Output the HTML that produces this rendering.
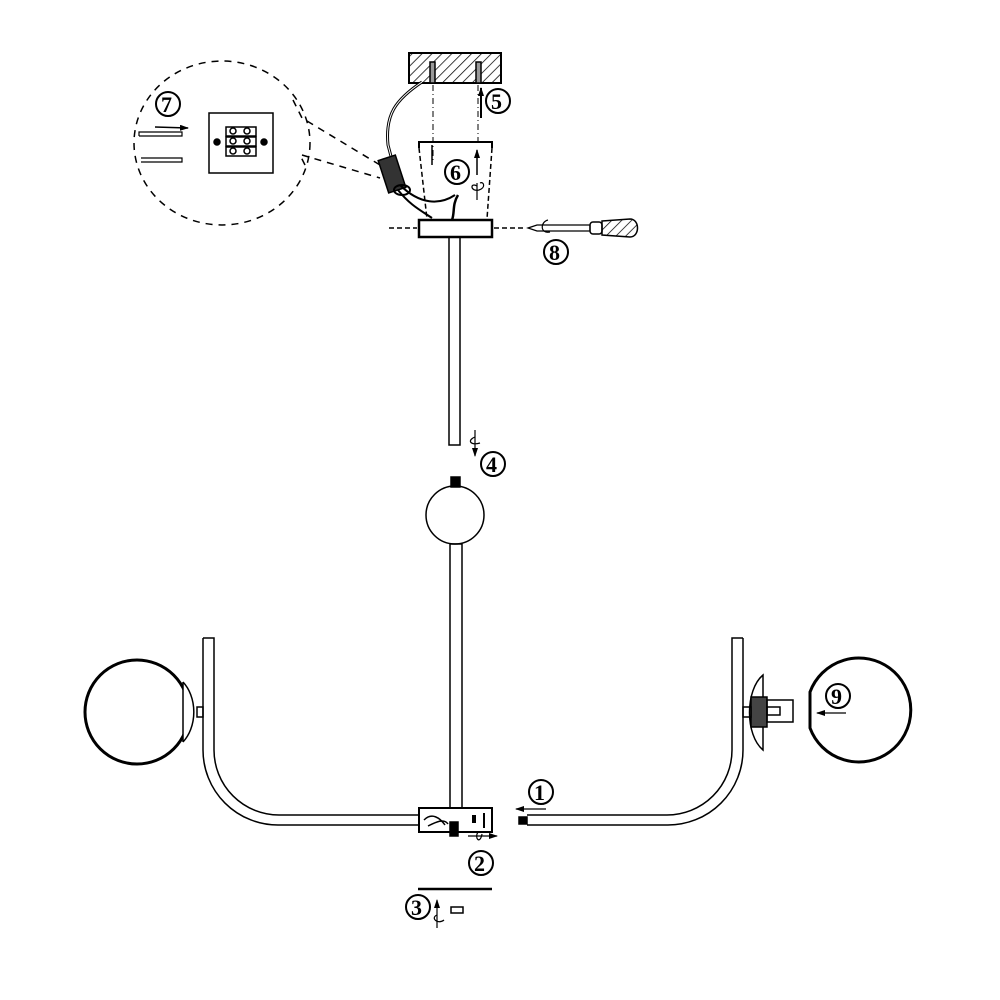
<!DOCTYPE html>
<html><head><meta charset="utf-8"><style>
html,body{margin:0;padding:0;background:#fff;width:1000px;height:1000px;overflow:hidden}
svg{display:block}
text{font-family:"Liberation Serif",serif;font-weight:bold;fill:#000}
</style></head><body>
<svg width="1000" height="1000" viewBox="0 0 1000 1000" xmlns="http://www.w3.org/2000/svg">
<defs>
<pattern id="h" width="7" height="7" patternUnits="userSpaceOnUse" patternTransform="rotate(45)">
<line x1="0" y1="0" x2="0" y2="7" stroke="#000" stroke-width="1.5"/></pattern>
<marker id="ar" markerUnits="userSpaceOnUse" markerWidth="9" markerHeight="6" refX="8" refY="3" orient="auto"><path d="M0,0 L9,3 L0,6 z" fill="#000"/></marker>
</defs>
<g fill="none" stroke="#000" stroke-width="1.5">
<!-- ceiling -->
<rect x="409" y="53" width="92" height="30" fill="url(#h)" stroke-width="2"/>
<rect x="430" y="62" width="5" height="21" fill="#999"/>
<rect x="476" y="62" width="5" height="21" fill="#999"/>
<line x1="433" y1="85" x2="433" y2="160" stroke-dasharray="6,3,1,3" stroke-width="1"/>
<line x1="478" y1="85" x2="478" y2="145" stroke-dasharray="6,3,1,3" stroke-width="1"/>
<line x1="481" y1="118" x2="481" y2="88" stroke-width="2" marker-end="url(#ar)"/>
<!-- cable -->
<path d="M422,82 C395,100 385,115 388,145 L392,160" stroke-width="3"/>
<path d="M422,82 C395,100 385,115 388,145 L392,160" stroke="#fff" stroke-width="1"/>
<!-- connector -->
<rect x="383" y="157" width="18" height="34" transform="rotate(-18 392 174)" fill="#333"/>
<path d="M400,185 C420,205 440,205 455,195 M398,190 C410,205 420,210 432,218" stroke-width="2"/>
<ellipse cx="402" cy="190" rx="8" ry="5" stroke-width="2"/>
<path d="M458,195 C452,205 455,212 452,220" stroke-width="2.5"/>
<!-- canopy -->
<path d="M419,148 L419,142 L492,142 L492,148" stroke-width="2"/>
<path d="M419,148 L427,219 M492,148 L487,219" stroke-dasharray="5,3"/>
<line x1="432" y1="145" x2="432" y2="165" stroke-width="1.5"/>
<line x1="477" y1="175" x2="477" y2="150" stroke-width="1.5" marker-end="url(#ar)"/>
<path d="M477,186 C470,182 470,192 479,190 C486,188 484,181 480,183" stroke-width="1.2"/>
<line x1="477" y1="183" x2="477" y2="200" stroke-width="1.2"/>
<rect x="419" y="220" width="73" height="17" stroke-width="2.5"/>
<path d="M389,228 L417,228 M494,228 L524,228" stroke-dasharray="5,3"/>
<!-- rod top -->
<rect x="449" y="237" width="11" height="208"/>
<!-- arrow 4 -->
<line x1="475" y1="430" x2="475" y2="456" stroke-width="1.2" marker-end="url(#ar)"/>
<path d="M475,437 C467,440 470,446 480,443" stroke-width="1.2"/>
<!-- ball -->
<rect x="451" y="477" width="9" height="10" fill="#000"/>
<circle cx="455" cy="515" r="29"/>
<rect x="450" y="544" width="12" height="264"/>
<!-- hub -->
<rect x="419" y="808" width="73" height="24" stroke-width="2"/>
<path d="M424,820 C432,812 440,818 445,825 M428,826 C436,822 444,818 448,824"/>
<rect x="450" y="822" width="8" height="14" fill="#000"/>
<rect x="472" y="815" width="4" height="8" fill="#000" stroke="none"/>
<line x1="484" y1="813" x2="484" y2="828" stroke-width="2"/>
<line x1="468" y1="836" x2="497" y2="836" stroke-width="1.2" marker-end="url(#ar)"/>
<path d="M478,832 C474,838 480,845 482,834" stroke-width="1.2"/>
<line x1="418" y1="889" x2="492" y2="889" stroke-width="2.5"/>
<line x1="437" y1="928" x2="437" y2="900" stroke-width="1.2" marker-end="url(#ar)"/>
<path d="M437,915 C430,918 438,925 444,920" stroke-width="1.2"/>
<rect x="451" y="907" width="12" height="6" stroke-width="1.5"/>
<!-- left arm -->
<path d="M203,638 L214,638 L214,750 A65,65 0 0 0 279,815 L419,815"/>
<path d="M203,638 L203,750 A75,75 0 0 0 278,825 L419,825"/>
<circle cx="137" cy="712" r="52" stroke-width="3"/>
<path d="M183,682 A28,38 0 0 1 183,742" stroke-width="1.5" fill="#fff"/>
<line x1="183" y1="682" x2="183" y2="742" stroke-width="1.5"/>
<rect x="197" y="707" width="6" height="10"/>
<!-- right arm -->
<path d="M743,638 L732,638 L732,750 A65,65 0 0 1 667,815 L527,815"/>
<path d="M743,638 L743,750 A75,75 0 0 1 668,825 L527,825"/>
<rect x="519" y="817" width="8" height="7" fill="#000"/>
<line x1="546" y1="809" x2="516" y2="809" stroke-width="1.2" marker-end="url(#ar)"/>
<path d="M763,675 C745,690 745,735 763,750 Z" fill="#fff"/>
<rect x="751" y="697" width="16" height="30" fill="#444"/>
<rect x="743" y="707" width="8" height="10"/>
<rect x="767" y="700" width="26" height="22"/>
<rect x="767" y="707" width="13" height="8"/>
<path d="M810,692 A52,52 0 1 1 810,728 Z" stroke-width="3"/>
<line x1="846" y1="713" x2="817" y2="713" stroke-width="1.2" marker-end="url(#ar)"/>
<!-- lens circle -->
<ellipse cx="222" cy="143" rx="88" ry="82" stroke-dasharray="7,6"/>
<path d="M293,100 L302,118 L380,165 M305,165 L300,155 M302,155 L380,178" stroke-dasharray="7,6"/>
<rect x="209" y="113" width="64" height="60" stroke-width="1.5" fill="#fff"/>
<rect x="226" y="127" width="30" height="9"/><rect x="226" y="137" width="30" height="9"/><rect x="226" y="147" width="30" height="9"/>
<circle cx="233" cy="131" r="3"/><circle cx="247" cy="131" r="3"/><circle cx="233" cy="141" r="3"/><circle cx="247" cy="141" r="3"/><circle cx="233" cy="151" r="3"/><circle cx="247" cy="151" r="3"/>
<circle cx="217" cy="142" r="3" fill="#000"/><circle cx="264" cy="142" r="3" fill="#000"/>
<path d="M139,136 L139,132 L182,132 L182,136 L139,136 M141,158 L182,158 L182,162 L141,162" stroke-width="1.2"/>
<line x1="155" y1="127" x2="188" y2="128" stroke-width="1.5" marker-end="url(#ar)"/>
<!-- screwdriver -->
<path d="M528,228 L537,225 L590,225 L590,231 L537,231 Z" stroke-width="1.2"/>
<path d="M548,220 C540,222 540,234 550,232" stroke-width="1.2"/>
<rect x="590" y="222" width="12" height="12" rx="3" stroke-width="1.5"/>
<path d="M602,221 L630,219 C640,219 640,237 630,237 L602,235 Z" fill="url(#h)" stroke-width="1.5"/>
</g>
<g font-size="22">
<circle cx="498" cy="101" r="12" fill="none" stroke="#000" stroke-width="2"/><text x="491" y="109">5</text>
<circle cx="457" cy="172" r="12" fill="none" stroke="#000" stroke-width="2"/><text x="450" y="180">6</text>
<circle cx="168" cy="104" r="12" fill="none" stroke="#000" stroke-width="2"/><text x="161" y="112">7</text>
<circle cx="556" cy="252" r="12" fill="none" stroke="#000" stroke-width="2"/><text x="549" y="260">8</text>
<circle cx="493" cy="464" r="12" fill="none" stroke="#000" stroke-width="2"/><text x="486" y="472">4</text>
<circle cx="541" cy="792" r="12" fill="none" stroke="#000" stroke-width="2"/><text x="534" y="800">1</text>
<circle cx="481" cy="863" r="12" fill="none" stroke="#000" stroke-width="2"/><text x="474" y="871">2</text>
<circle cx="418" cy="907" r="12" fill="none" stroke="#000" stroke-width="2"/><text x="411" y="915">3</text>
<circle cx="838" cy="696" r="12" fill="none" stroke="#000" stroke-width="2"/><text x="831" y="704">9</text>
</g>
</svg>
</body></html>
